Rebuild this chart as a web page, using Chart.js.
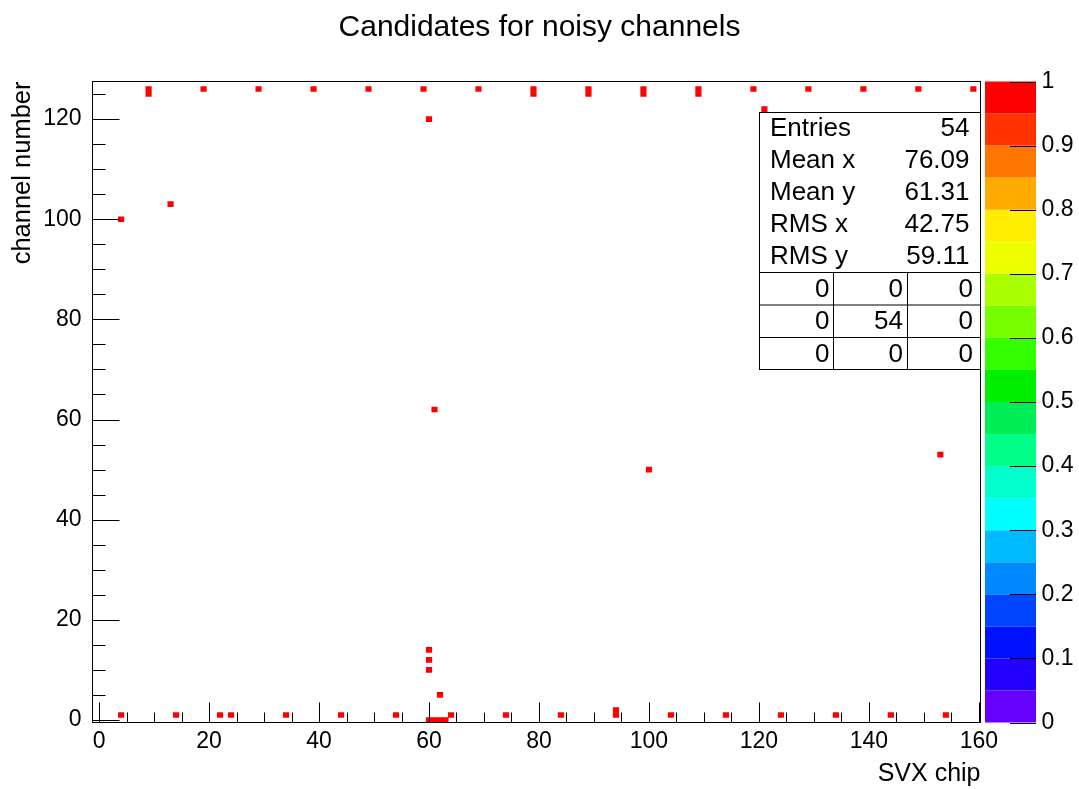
<!DOCTYPE html>
<html>
<head>
<meta charset="utf-8">
<title>Candidates for noisy channels</title>
<script src="https://cdn.jsdelivr.net/npm/chart.js@4/dist/chart.umd.min.js"></script>
<style>
  body { margin: 0; background: #fff; }
</style>
</head>
<body>
<canvas id="noisyChart" width="1079" height="789"></canvas>
<script>
// filled bins of the 2D histogram: SVX chip (x) vs channel number (y)
const chips = [
  9, 19, 29, 39, 49, 59, 69, 79, 89, 99, 109, 119, 129, 139, 149, 159,
  9, 79, 89, 99, 109,
  121, 60, 13, 4, 61, 153, 100,
  60, 60, 60, 62, 94,
  4, 14, 22, 24, 34, 44, 54, 64, 74, 84, 94, 104, 114, 124, 134, 144, 154,
  60, 61, 62, 63
];
const channels = [
  126, 126, 126, 126, 126, 126, 126, 126, 126, 126, 126, 126, 126, 126, 126, 126,
  125, 125, 125, 125, 125,
  122, 120, 103, 100, 62, 53, 50,
  14, 12, 10, 5, 2,
  1, 1, 1, 1, 1, 1, 1, 1, 1, 1, 1, 1, 1, 1, 1, 1, 1,
  0, 0, 0, 0
];
const contents = [
  1, 1, 1, 1, 1, 1, 1, 1, 1, 1, 1, 1, 1, 1, 1, 1,
  1, 1, 1, 1, 1,
  1, 1, 1, 1, 1, 1, 1,
  1, 1, 1, 1, 1,
  1, 1, 1, 1, 1, 1, 1, 1, 1, 1, 1, 1, 1, 1, 1, 1, 1,
  1, 1, 1, 1
];

const xTicks = [0, 20, 40, 60, 80, 100, 120, 140, 160];
const yTicks = [0, 20, 40, 60, 80, 100, 120];
const zTicks = [0, 0.1, 0.2, 0.3, 0.4, 0.5, 0.6, 0.7, 0.8, 0.9, 1];
const zTickLabels = ['0', '0.1', '0.2', '0.3', '0.4', '0.5', '0.6', '0.7', '0.8', '0.9', '1'];

// stats box
const statNames = ['Entries', 'Mean x', 'Mean y', 'RMS x', 'RMS y'];
const statValues = ['54', '76.09', '61.31', '42.75', '59.11'];
const overflowTable = [[0, 0, 0], [0, 54, 0], [0, 0, 0]];

// colour palette, bottom (0) to top (1), 20 levels
const paletteColors = [
  '#6600ff', '#2200ff', '#0011ff', '#0044ff', '#0088ff', '#00bbff', '#00ffff',
  '#00ffcc', '#00ff88', '#00ee55', '#00ee00', '#33ff00', '#77ff00', '#aaff00',
  '#eeff00', '#ffee00', '#ffaa00', '#ff7700', '#ff3300', '#ff0000'
];

const FONT = '"Liberation Sans", Arial, Helvetica, sans-serif';
Chart.defaults.font.family = FONT;
Chart.defaults.color = '#000';

const rootDecor = {
  id: 'rootDecor',
  afterDatasetsDraw(chart) {
    const {ctx, chartArea: a, scales: {x, y, z}} = chart;
    ctx.save();
    ctx.strokeStyle = '#000';
    ctx.lineWidth = 1;

    // ticks drawn inside the frame, like ROOT
    ctx.beginPath();
    for (let v = 0; v <= 160; v += 5) {
      const px = Math.round(x.getPixelForValue(v)) + 0.5;
      const len = xTicks.includes(v) ? 20 : 10;
      ctx.moveTo(px, a.bottom);
      ctx.lineTo(px, a.bottom - len);
    }
    for (let v = 0; v <= 125; v += 5) {
      const py = Math.round(y.getPixelForValue(v)) + 0.5;
      const len = yTicks.includes(v) ? 27 : 13;
      ctx.moveTo(a.left, py);
      ctx.lineTo(a.left + len, py);
    }
    ctx.stroke();
    ctx.strokeRect(a.left, a.top, a.right - a.left, a.bottom - a.top);

    // palette
    const pl = a.right + 4.5, pw = 51;
    paletteColors.forEach((c, i) => {
      const y0 = z.getPixelForValue(i / paletteColors.length);
      const y1 = z.getPixelForValue((i + 1) / paletteColors.length);
      ctx.fillStyle = c;
      ctx.fillRect(pl, y1, pw, y0 - y1);
    });
    ctx.beginPath();
    zTicks.forEach(v => {
      const py = Math.round(z.getPixelForValue(v)) + 0.5;
      ctx.moveTo(pl + pw - 26, py);
      ctx.lineTo(pl + pw, py);
    });
    ctx.stroke();

    // stats box
    const bx = 759.5, by = 112.5, bw = a.right - bx;
    const rows = [272.5, 305, 337.5, 369.5];
    ctx.fillStyle = '#fff';
    ctx.fillRect(bx, by, bw, rows[3] - by);
    ctx.strokeRect(bx, by, bw, rows[3] - by);
    ctx.beginPath();
    ctx.moveTo(bx, rows[0]); ctx.lineTo(bx + bw, rows[0]);
    ctx.moveTo(bx, rows[1]); ctx.lineTo(bx + bw, rows[1]);
    ctx.moveTo(bx, rows[2]); ctx.lineTo(bx + bw, rows[2]);
    ctx.moveTo(833.5, rows[0]); ctx.lineTo(833.5, rows[3]);
    ctx.moveTo(907.5, rows[0]); ctx.lineTo(907.5, rows[3]);
    ctx.stroke();

    ctx.fillStyle = '#000';
    ctx.font = '26px ' + FONT;
    ctx.textBaseline = 'middle';
    statNames.forEach((name, i) => {
      const ty = by + 16.5 + i * 32;
      ctx.textAlign = 'left';
      ctx.fillText(name, bx + 10.5, ty);
      ctx.textAlign = 'right';
      ctx.fillText(statValues[i], bx + bw - 11, ty);
    });
    const colRight = [829.5, 903, 973];
    ctx.textAlign = 'right';
    overflowTable.forEach((row, r) => {
      const ty = (rows[r] + rows[r + 1]) / 2 + 1;
      row.forEach((val, c) => ctx.fillText(String(val), colRight[c], ty));
    });
    ctx.restore();
  }
};

const canvas = document.getElementById('noisyChart');
const ctx = canvas.getContext('2d');

const data = {
  datasets: [{
    data: chips.map((c, i) => ({x: c, y: [channels[i] - 0.5, channels[i] + 0.5]})),
    backgroundColor: contents.map(v => paletteColors[Math.min(paletteColors.length - 1, Math.floor(v * paletteColors.length))]),
    borderWidth: 0,
    barPercentage: 1,
    categoryPercentage: 1
  }]
};

const config = {
  type: 'bar',
  data: data,
  options: {
    responsive: false,
    devicePixelRatio: 1,
    animation: false,
    events: [],
    layout: { padding: 0 },
    plugins: {
      legend: { display: false },
      tooltip: { enabled: false },
      title: {
        display: true,
        text: 'Candidates for noisy channels',
        color: '#000',
        font: { size: 30, weight: 'normal' },
        padding: { top: 10, bottom: 35.5 }
      }
    },
    scales: {
      x: {
        type: 'linear',
        min: -1.2,
        max: 160.3,
        offset: false,
        grid: { display: false, drawTicks: false },
        border: { display: false },
        ticks: { font: { size: 23 }, padding: 5, autoSkip: false, maxRotation: 0 },
        afterBuildTicks: s => { s.ticks = xTicks.map(v => ({value: v})); },
        afterFit: s => { s.height = 66.5; },
        title: {
          display: true,
          text: 'SVX chip',
          align: 'end',
          font: { size: 25 },
          padding: { top: 0, bottom: 0 }
        }
      },
      y: {
        type: 'linear',
        min: -0.5,
        max: 127.5,
        grid: { display: false, drawTicks: false },
        border: { display: false },
        ticks: { font: { size: 23 }, padding: 11, autoSkip: false },
        afterBuildTicks: s => { s.ticks = yTicks.map(v => ({value: v})); },
        afterFit: s => { s.width = 92.5; },
        title: {
          display: true,
          text: 'channel number',
          align: 'end',
          font: { size: 25.5 },
          padding: { top: 8, bottom: 0 }
        }
      },
      z: {
        type: 'linear',
        position: 'right',
        min: 0,
        max: 1,
        grid: { display: false, drawTicks: true, tickLength: 58 },
        border: { display: false },
        ticks: { font: { size: 23 }, padding: 3, autoSkip: false, callback: (v, i) => zTickLabels[i] },
        afterBuildTicks: s => { s.ticks = zTicks.map(v => ({value: v})); },
        afterFit: s => { s.width = 98.5; }
      }
    }
  },
  plugins: [rootDecor]
};

let chart1 = new Chart(ctx, config);
</script>
</body>
</html>
